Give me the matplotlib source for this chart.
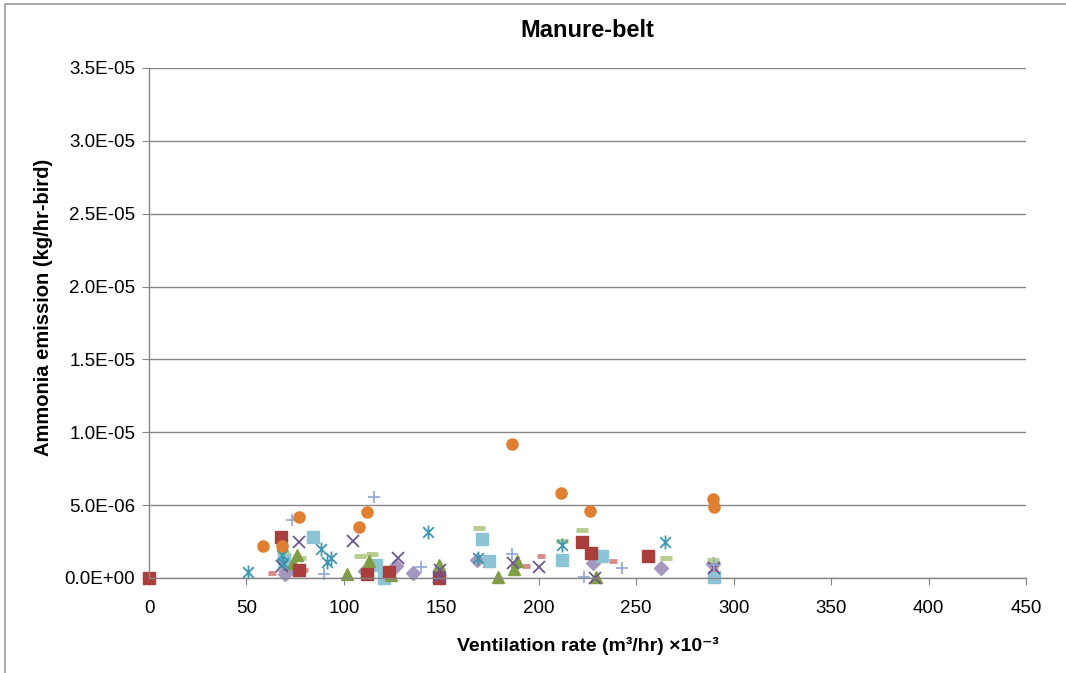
import matplotlib
matplotlib.use('Agg')
import matplotlib.pyplot as plt
from matplotlib.path import Path
from matplotlib.patches import Rectangle
from matplotlib.ticker import FuncFormatter

plt.rcParams['font.family'] = ['Liberation Sans', 'DejaVu Sans']

# ventilation rate (m3/hr x 1e-3), ammonia emission (x 1e-6 kg/hr-bird)
red_sq_x = [0, 67.6, 77.1, 112, 123.1, 149, 222, 226.8, 256.2]
red_sq_y = [0, 2.83, 0.55, 0.27, 0.43, 0.0, 2.45, 1.69, 1.51]

green_tri_x = [74, 76.1, 101.8, 113, 124.2, 148.8, 179.2, 187.4, 189, 229.5]
green_tri_y = [1.0, 1.58, 0.25, 1.17, 0.2, 0.89, 0.09, 0.6, 1.19, 0.05]

purple_x_x = [68, 77, 104.8, 127.9, 149.4, 148.8, 186.6, 200.3, 228.8, 290]
purple_x_y = [0.8, 2.45, 2.56, 1.39, 0.55, 0.05, 1.0, 0.78, 0.02, 0.66]

cyan_star_x = [50.6, 68, 69, 88.3, 93.2, 91.2, 143.3, 168.6, 211.7, 264.7]
cyan_star_y = [0.43, 1.6, 1.0, 1.97, 1.35, 1.12, 3.14, 1.35, 2.26, 2.49]

orange_x = [58.3, 68.1, 77.1, 107.6, 111.7, 186.2, 211.2, 226.3, 289.2, 290]
orange_y = [2.2, 2.22, 4.17, 3.48, 4.55, 9.2, 5.81, 4.62, 5.4, 4.85]

plus_x = [73.2, 68.5, 90, 115.4, 139.6, 186.1, 223.4, 242.9, 290]
plus_y = [3.98, 2.2, 0.25, 5.54, 0.73, 1.65, 0.05, 0.71, 0.9]

red_dash_x = [63, 79.7, 193.3, 201, 238.2, 290]
red_dash_y = [0.32, 0.55, 0.84, 1.51, 1.17, 0.6]

green_dash_x = [68.9, 77.5, 108.3, 114.6, 169.5, 212, 222, 265.1, 289.5]
green_dash_y = [1.8, 1.35, 1.51, 1.65, 3.41, 2.54, 3.29, 1.39, 1.24]

lilac_dia_x = [70.1, 70, 110.8, 126.7, 135.6, 168.1, 228, 262.7, 289.5]
lilac_dia_y = [0.5, 0.3, 0.5, 0.82, 0.32, 1.24, 1.0, 0.66, 0.96]

aqua_sq_x = [69.4, 84.3, 116.3, 120.7, 170.7, 174.5, 211.7, 232.3, 290]
aqua_sq_y = [1.3, 2.83, 0.89, 0.02, 2.66, 1.19, 1.24, 1.53, 0.09]

asterisk = Path([(-1, -1), (1, 1), (-1, 1), (1, -1), (0, -1.3), (0, 1.3)],
                [Path.MOVETO, Path.LINETO, Path.MOVETO, Path.LINETO, Path.MOVETO, Path.LINETO])

fig = plt.figure(figsize=(10.66, 6.73), dpi=100)
ax = fig.add_axes([0.1398, 0.1412, 0.8227, 0.7578])

def sc(x, y, **kw):
    ax.plot(x, [v * 1e-6 for v in y], linestyle='none', clip_on=False, **kw)

sc(lilac_dia_x, lilac_dia_y, marker='D', ms=7, color='#A597C0', mec='#A597C0')
sc(aqua_sq_x, aqua_sq_y, marker='s', ms=8.5, color='#8CC4D6', mec='#8CC4D6')
sc(red_dash_x, red_dash_y, marker='_', ms=6, mew=3.5, color='#D88C8A')
sc(green_dash_x, green_dash_y, marker='_', ms=9, mew=3.5, color='#B5CD8E')
sc(green_tri_x, green_tri_y, marker='^', ms=9, color='#809F44', mec='#809F44')
sc(red_sq_x, red_sq_y, marker='s', ms=8.5, color='#AA3E3C', mec='#AA3E3C')
sc(purple_x_x, purple_x_y, marker='x', ms=8, mew=1.3, color='#6D5592')
sc(cyan_star_x, cyan_star_y, marker=asterisk, ms=10, mew=1.3, color='#3C98B0', mfc='none')
sc(plus_x, plus_y, marker='+', ms=9, mew=1.2, color='#8FA7D6')
sc(orange_x, orange_y, marker='o', ms=8, color='#E07E32', mec='#E07E32')

ax.set_xlim(0, 450)
ax.set_ylim(0, 3.5e-5)
ax.set_xticks(range(0, 451, 50))
ax.set_yticks([i * 5e-6 for i in range(8)])
ax.yaxis.set_major_formatter(FuncFormatter(lambda v, p: '%.1E' % v))
ax.grid(axis='y', color='#868686', linewidth=1.0)
ax.set_axisbelow(True)
for s in ['top', 'right']:
    ax.spines[s].set_visible(False)
for s in ['left', 'bottom']:
    ax.spines[s].set_color('#868686')
    ax.spines[s].set_linewidth(1.0)
ax.tick_params(axis='both', colors='#868686', labelcolor='black', labelsize=13.5,
               direction='out', length=5)
ax.tick_params(axis='x', pad=11)
ax.tick_params(axis='y', pad=5)

ax.set_title('Manure-belt', fontsize=17, fontweight='bold', pad=22)
ax.set_xlabel('Ventilation rate (m\u00b3/hr) \u00d710\u207b\u00b3', fontsize=14,
              fontweight='bold', labelpad=14)
ax.set_ylabel('Ammonia emission (kg/hr-bird)', fontsize=14.5, fontweight='bold')
ax.yaxis.set_label_coords(-0.110, 0.531)

fig.patches.append(Rectangle((5 / 1066, -0.1), 1.2, 1.1 - 4 / 673, transform=fig.transFigure,
                             fill=False, edgecolor='#9a9a9a', linewidth=1.2))

fig.savefig('out.png', dpi=100)
